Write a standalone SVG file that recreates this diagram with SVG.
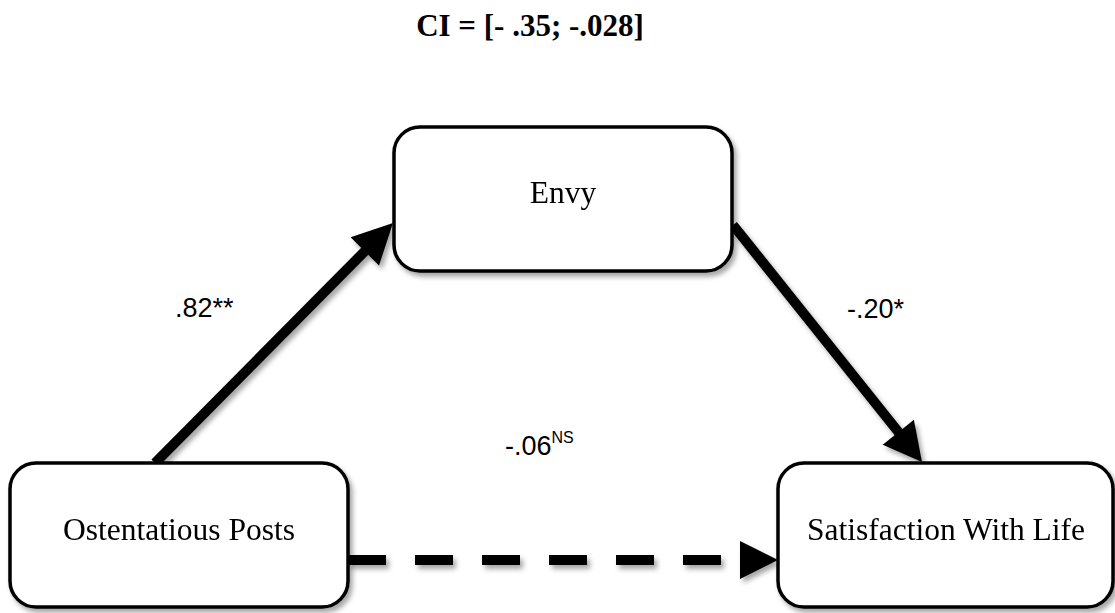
<svg xmlns="http://www.w3.org/2000/svg" width="1115" height="613" viewBox="0 0 1115 613">
<defs>
<filter id="sh" x="-10%" y="-10%" width="130%" height="130%">
<feDropShadow dx="3" dy="4" stdDeviation="2.5" flood-color="#000" flood-opacity="0.35"/>
</filter>
</defs>
<style>
.box{fill:#fff;stroke:#000;stroke-width:3.5}
.nt{font-family:"Liberation Serif","Times New Roman",serif;font-size:31.5px;fill:#000;text-anchor:middle}
.lbl{font-family:"Liberation Sans",Arial,sans-serif;font-size:27px;fill:#000}
.ln{stroke:#000;stroke-width:10;fill:none}
.hd{fill:#000}
</style>
<rect width="1115" height="613" fill="#fff"/>
<text x="530" y="36" font-family="Liberation Serif,'Times New Roman',serif" font-weight="bold" font-size="31" text-anchor="middle">CI = [- .35; -.028]</text>
<g id="connectors" filter="url(#sh)">
<line class="ln" x1="155" y1="463" x2="368" y2="248"/>
<polygon class="hd" points="393,223 379,265.5 350.6,237.3"/>
<line class="ln" x1="733" y1="225" x2="900" y2="434"/>
<polygon class="hd" points="922,462 913.9,419.8 882.7,444.8"/>
<line class="ln" x1="348" y1="560" x2="740" y2="560" stroke-dasharray="38 29"/>
<polygon class="hd" points="740,541 778,560 740,579"/>
</g>
<g id="envy" filter="url(#sh)">
<rect class="box" x="394" y="127" width="338" height="144" rx="26"/>
<text class="nt" x="563" y="203">Envy</text>
</g>
<g id="ostentatious" filter="url(#sh)">
<rect class="box" x="10" y="463" width="338" height="144" rx="26"/>
<text class="nt" x="179" y="540">Ostentatious Posts</text>
</g>
<g id="satisfaction" filter="url(#sh)">
<rect class="box" x="778" y="463" width="335" height="144" rx="26"/>
<text class="nt" x="946" y="540">Satisfaction With Life</text>
</g>
<g id="labels">
<text class="lbl" x="175" y="317">.82**</text>
<text class="lbl" x="847" y="318">-.20*</text>
<text class="lbl" x="505" y="455">-.06<tspan font-size="16" dy="-12">NS</tspan></text>
</g>
</svg>
